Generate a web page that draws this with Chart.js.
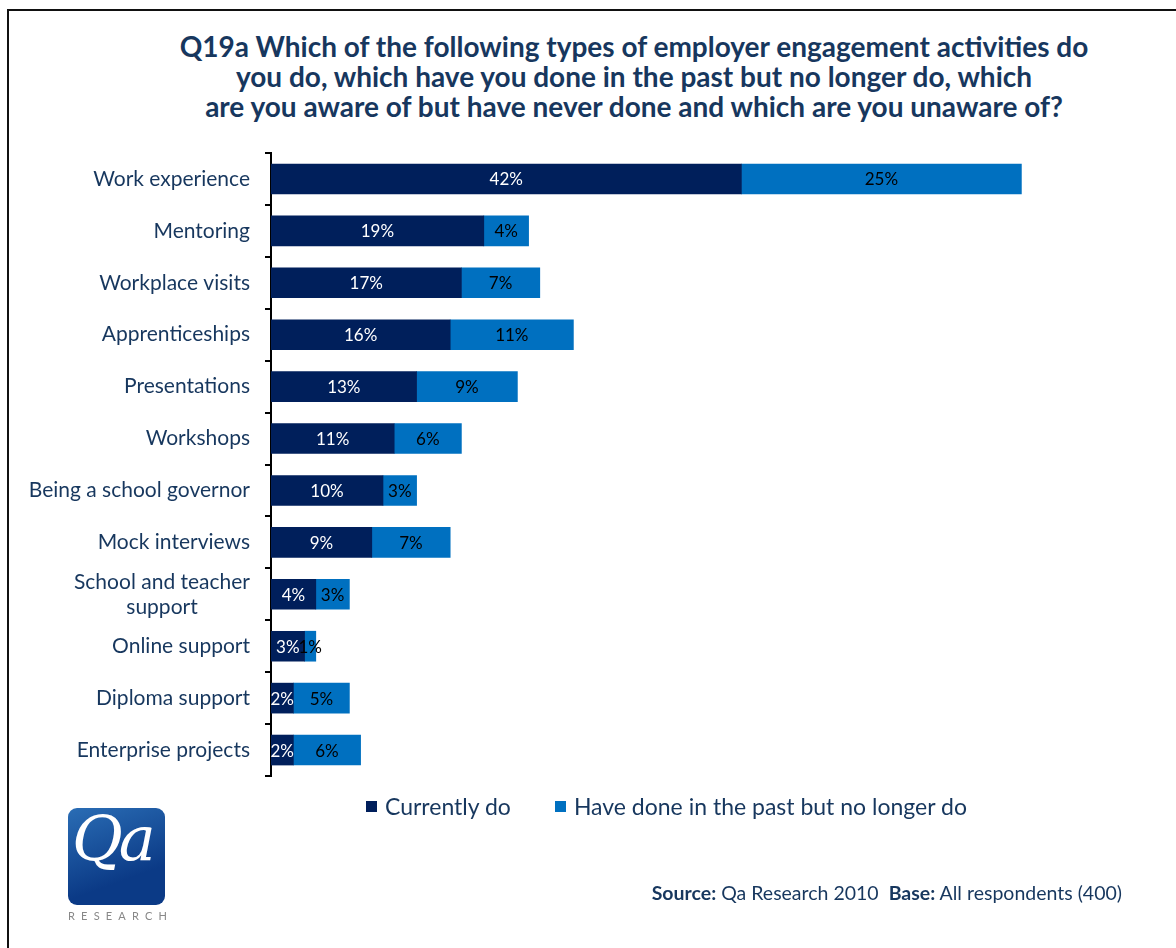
<!DOCTYPE html>
<html>
<head>
<meta charset="utf-8">
<script src="https://cdn.jsdelivr.net/npm/chart.js@4"></script>
<style>
  body { margin: 0; background: #fff; }
  #wrap { position: relative; width: 1176px; height: 948px; overflow: hidden; font-family: Lato, "Open Sans", sans-serif; }
  #frame { position: absolute; left: 7px; top: 9px; width: 1200px; height: 1000px; border-left: 2px solid #111; border-top: 2px solid #111; }
  #title { position: absolute; left: 84px; width: 1100px; top: 31px; text-align: center; color: #17375e; font-weight: bold; font-size: 28px; line-height: 30px; }
  #legend { position: absolute; top: 792px; left: 366px; display: flex; color: #17375e; font-size: 23px; }
  #legend .item { display: flex; align-items: center; margin-right: 44px; }
  #legend .box { width: 11px; height: 11px; margin-right: 8px; }
  #source { position: absolute; right: 54px; top: 881px; color: #17375e; font-size: 19.5px; }
  #logo { position: absolute; left: 68px; top: 808px; width: 97px; height: 97px; border-radius: 9px; background: linear-gradient(160deg, #2a6db5, #0b3a86 70%); overflow: hidden; }
  #logo span { position: absolute; left: 4px; top: -6px; color: #fff; font-family: "DejaVu Serif", "Liberation Serif", serif; font-style: italic; font-size: 62px; letter-spacing: -4px; }
  #research { position: absolute; left: 68px; top: 909px; color: #888; font-size: 11px; letter-spacing: 6.2px; }
  canvas { position: absolute; left: 0; top: 0; }
</style>
</head>
<body>
<div id="wrap">
  <div id="frame"></div>
  <div id="title">Q19a Which of the following types of employer engagement activities do<br>you do, which have you done in the past but no longer do, which<br>are you aware of but have never done and which are you unaware of?</div>
  <canvas id="engagementChart" width="1176" height="948"></canvas>
  <div id="legend"></div>
  <div id="logo"><span>Qa</span></div>
  <div id="research">RESEARCH</div>
  <div id="source"><b>Source:</b> Qa Research 2010&nbsp;&nbsp;<b>Base:</b> All respondents (400)</div>
</div>
<script>
const activities = [
    'Work experience',
    'Mentoring',
    'Workplace visits',
    'Apprenticeships',
    'Presentations',
    'Workshops',
    'Being a school governor',
    'Mock interviews',
    ['School and teacher', 'support'],
    'Online support',
    'Diploma support',
    'Enterprise projects'
];
const currentlyDo = [42, 19, 17, 16, 13, 11, 10, 9, 4, 3, 2, 2];
const doneInPast = [25, 4, 7, 11, 9, 6, 3, 7, 3, 1, 5, 6];
const seriesNames = ['Currently do', 'Have done in the past but no longer do'];
const seriesColours = ['#001f5b', '#0070c0'];
const labelColours = ['#ffffff', '#000000'];

const textColour = '#17375e';

// percentage text centred in every bar segment
const segmentLabels = {
    id: 'segmentLabels',
    afterDatasetsDraw(chart) {
        const ctx = chart.ctx;
        ctx.save();
        ctx.font = '17px Lato, sans-serif';
        ctx.textAlign = 'center';
        ctx.textBaseline = 'middle';
        chart.data.datasets.forEach((ds, i) => {
            chart.getDatasetMeta(i).data.forEach((bar, j) => {
                ctx.fillStyle = labelColours[i];
                ctx.fillText(ds.data[j] + '%', (bar.x + bar.base) / 2, bar.y + 1);
            });
        });
        ctx.restore();
    }
};

// category names: right aligned block, lines centred inside the block
const categoryLabels = {
    id: 'categoryLabels',
    afterDraw(chart) {
        const ctx = chart.ctx;
        const yScale = chart.scales.y;
        const right = 250;
        const lineHeight = 25;
        ctx.save();
        ctx.font = '21px Lato, sans-serif';
        ctx.fillStyle = textColour;
        ctx.textAlign = 'center';
        ctx.textBaseline = 'middle';
        activities.forEach((label, i) => {
            const lines = Array.isArray(label) ? label : [label];
            const blockWidth = Math.max(...lines.map(l => ctx.measureText(l).width));
            const cx = right - blockWidth / 2;
            const y0 = yScale.getPixelForValue(i) - (lines.length - 1) * lineHeight / 2;
            lines.forEach((l, k) => ctx.fillText(l, cx, y0 + k * lineHeight));
        });
        ctx.restore();
    }
};

const config = {
    type: 'bar',
    data: {
        labels: activities,
        datasets: [
            { label: seriesNames[0], data: currentlyDo, backgroundColor: seriesColours[0] },
            { label: seriesNames[1], data: doneInPast, backgroundColor: seriesColours[1] }
        ]
    },
    options: {
        responsive: false,
        animation: false,
        indexAxis: 'y',
        layout: { padding: { top: 153, bottom: 172, right: 121, left: 0 } },
        datasets: { bar: { barThickness: 30 } },
        scales: {
            x: { stacked: true, min: 0, max: 70, display: false },
            y: {
                stacked: true,
                ticks: { display: false },
                grid: { drawOnChartArea: false, drawTicks: true, tickLength: 6, color: '#000', lineWidth: 2 },
                border: { display: true, color: '#000', width: 2 },
                afterFit(scale) { scale.width = 271; }
            }
        },
        plugins: {
            legend: { display: false },
            tooltip: { enabled: false }
        }
    },
    plugins: [segmentLabels, categoryLabels]
};

const ctx = document.getElementById('engagementChart').getContext('2d');
const myChart = new Chart(ctx, config);

// legend built from the chart's own datasets
const legendEl = document.getElementById('legend');
myChart.data.datasets.forEach(ds => {
    const item = document.createElement('div');
    item.className = 'item';
    item.innerHTML = '<div class="box" style="background:' + ds.backgroundColor + '"></div><span>' + ds.label + '</span>';
    legendEl.appendChild(item);
});
</script>
</body>
</html>
